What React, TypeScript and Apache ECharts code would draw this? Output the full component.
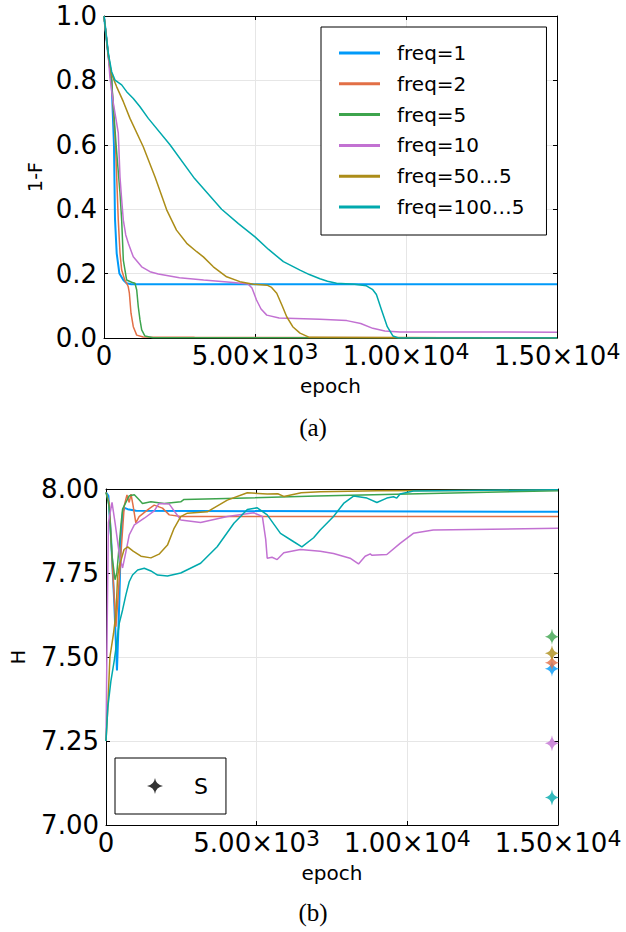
import React, { useEffect, useRef } from 'react';
import * as echarts from 'echarts';

const seriesNames = ['freq=1', 'freq=2', 'freq=5', 'freq=10', 'freq=50…5', 'freq=100…5'];
const seriesColors = ['#009af9', '#e26f46', '#3da44d', '#c271d2', '#ac8d18', '#00a9ad'];

// (a) 1-F vs epoch
const fidFreq1: [number, number][] = [[0, 1.0], [140, 0.88], [250, 0.8], [330, 0.6], [364, 0.37], [420, 0.263], [510, 0.2], [640, 0.18], [750, 0.17], [900, 0.167], [15000, 0.167]];
const fidFreq2: [number, number][] = [[0, 1.0], [140, 0.88], [250, 0.8], [380, 0.6], [440, 0.45], [473, 0.366], [530, 0.264], [585, 0.211], [695, 0.178], [760, 0.168], [800, 0.16], [840, 0.139], [894, 0.077], [970, 0.035], [1083, 0.009], [1300, 0.003], [3000, 0.002], [15000, 0.001]];
const fidFreq5: [number, number][] = [[0, 1.0], [140, 0.88], [250, 0.8], [400, 0.6], [530, 0.45], [585, 0.366], [640, 0.242], [750, 0.18], [915, 0.173], [1025, 0.17], [1083, 0.149], [1135, 0.097], [1192, 0.056], [1248, 0.025], [1357, 0.006], [1620, 0.001], [15000, 0.0005]];
const fidFreq10: [number, number][] = [[0, 1.0], [140, 0.88], [195, 0.81], [308, 0.73], [473, 0.636], [530, 0.5], [585, 0.43], [640, 0.366], [720, 0.32], [805, 0.294], [970, 0.252], [1248, 0.221], [1523, 0.206], [1798, 0.199], [2500, 0.187], [3300, 0.18], [4280, 0.172], [4770, 0.168], [4900, 0.155], [5050, 0.118], [5200, 0.09], [5390, 0.071], [5800, 0.062], [7150, 0.058], [8040, 0.054], [8500, 0.045], [8900, 0.03], [9300, 0.022], [9800, 0.019], [15000, 0.018]];
const fidFreq50: [number, number][] = [[0, 1.0], [140, 0.88], [250, 0.82], [420, 0.78], [640, 0.734], [860, 0.682], [1300, 0.594], [1690, 0.5], [2075, 0.398], [2400, 0.335], [2740, 0.294], [3070, 0.268], [3290, 0.252], [3620, 0.221], [4060, 0.19], [4500, 0.175], [4950, 0.167], [5400, 0.164], [5550, 0.157], [5720, 0.139], [5900, 0.1], [6050, 0.066], [6250, 0.035], [6490, 0.015], [6800, 0.002], [15000, 0.0]];
const fidFreq100: [number, number][] = [[0, 1.0], [143, 0.884], [254, 0.827], [364, 0.801], [585, 0.786], [750, 0.765], [970, 0.744], [1192, 0.718], [1467, 0.682], [2185, 0.6], [3000, 0.495], [3895, 0.4], [4450, 0.355], [5000, 0.314], [5450, 0.275], [5940, 0.237], [6490, 0.211], [6800, 0.197], [7150, 0.184], [7400, 0.176], [7700, 0.17], [8300, 0.167], [8690, 0.162], [8900, 0.15], [9020, 0.135], [9190, 0.087], [9380, 0.035], [9570, 0.006], [9750, 0.0], [15000, 0.0]];

// (b) H vs epoch
const entFreq1: [number, number][] = [[0, 7.99], [80, 7.98], [165, 7.86], [275, 7.66], [364, 7.46], [440, 7.66], [496, 7.863], [560, 7.932], [610, 7.944], [720, 7.94], [1000, 7.935], [15000, 7.932]];
const entFreq2: [number, number][] = [[0, 7.99], [110, 7.957], [220, 7.759], [330, 7.59], [386, 7.66], [496, 7.808], [606, 7.95], [695, 7.982], [770, 7.96], [830, 7.985], [900, 7.95], [990, 7.899], [1100, 7.918], [1380, 7.938], [1600, 7.952], [1875, 7.943], [2100, 7.923], [2480, 7.918], [15000, 7.918]];
const entFreq5: [number, number][] = [[0, 7.99], [100, 7.95], [200, 7.8], [300, 7.73], [360, 7.75], [496, 7.893], [550, 7.94], [770, 7.98], [940, 7.983], [1100, 7.968], [1210, 7.957], [1490, 7.962], [1930, 7.957], [2480, 7.962], [2590, 7.969], [4000, 7.972], [7000, 7.979], [10000, 7.985], [15000, 7.995]];
const entFreq10: [number, number][] = [[0, 7.25], [40, 7.6], [80, 7.9], [200, 7.96], [300, 7.9], [450, 7.8], [550, 7.765], [660, 7.813], [770, 7.863], [940, 7.893], [1270, 7.913], [1600, 7.935], [1760, 7.957], [2100, 7.955], [2300, 7.93], [2480, 7.908], [3140, 7.9], [4030, 7.918], [4910, 7.929], [5190, 7.918], [5300, 7.85], [5350, 7.794], [5510, 7.797], [5680, 7.79], [5900, 7.81], [6450, 7.82], [7110, 7.815], [7550, 7.808], [8100, 7.794], [8380, 7.777], [8600, 7.8], [8770, 7.807], [8820, 7.803], [9320, 7.805], [9760, 7.838], [10200, 7.868], [10860, 7.878], [15000, 7.883]];
const entFreq50: [number, number][] = [[0, 7.25], [60, 7.35], [130, 7.5], [250, 7.57], [330, 7.63], [386, 7.74], [440, 7.77], [600, 7.82], [720, 7.828], [900, 7.815], [1160, 7.8], [1490, 7.795], [1760, 7.806], [2040, 7.833], [2260, 7.883], [2480, 7.918], [2700, 7.928], [3360, 7.932], [4025, 7.967], [4690, 7.989], [5350, 7.985], [5700, 7.986], [5900, 7.978], [6480, 7.989], [7110, 7.992], [9000, 7.995], [15000, 7.997]];
const entFreq100: [number, number][] = [[0, 7.25], [60, 7.35], [165, 7.43], [275, 7.49], [440, 7.6], [550, 7.64], [660, 7.685], [770, 7.724], [880, 7.744], [1050, 7.759], [1270, 7.764], [1490, 7.756], [1710, 7.744], [2040, 7.741], [2480, 7.75], [3140, 7.779], [3690, 7.828], [4245, 7.898], [4690, 7.939], [5020, 7.944], [5350, 7.923], [5790, 7.868], [6230, 7.843], [6500, 7.828], [6890, 7.855], [7110, 7.878], [7550, 7.918], [7885, 7.957], [8215, 7.979], [8660, 7.973], [8990, 7.96], [9320, 7.973], [9540, 7.977], [9650, 7.973], [9760, 7.985], [10200, 7.994], [15000, 7.998]];

// S markers (one per run, same colour order)
const sEpoch = 14800;
const sValues = [7.465, 7.483, 7.56, 7.243, 7.511, 7.082];

const xTickMain = ['0', '5.00×10', '1.00×10', '1.50×10'];
const xTickExp = ['', '3', '4', '4'];
const yTicksA = ['0.0', '0.2', '0.4', '0.6', '0.8', '1.0'];
const yTicksB = ['7.00', '7.25', '7.50', '7.75', '8.00'];

const fidData = [fidFreq1, fidFreq2, fidFreq5, fidFreq10, fidFreq50, fidFreq100];
const entData = [entFreq1, entFreq2, entFreq5, entFreq10, entFreq50, entFreq100];

const starPath = 'path://M0,-10 Q1.3,-1.3 10,0 Q1.3,1.3 0,10 Q-1.3,1.3 -10,0 Q-1.3,-1.3 0,-10 Z';
const FONT = 'DejaVu Sans';

function xAxes(gridIndex: number, name: string) {
  const base = {
    type: 'value', gridIndex, min: 0, max: 15000, interval: 5000,
    axisLine: { show: true, onZero: false, lineStyle: { color: '#000', width: 1 } },
    axisTick: { show: true, inside: true, length: 4, lineStyle: { color: '#000', width: 1 } },
  };
  return [
    {
      ...base, position: 'bottom',
      splitLine: { show: true, lineStyle: { color: '#e6e6e6', width: 1 } },
      name, nameLocation: 'middle', nameGap: 38,
      nameTextStyle: { fontFamily: FONT, fontSize: 20, color: '#000' },
      axisLabel: {
        show: true, margin: 2, color: '#000',
        formatter: (v: number) => {
          const i = Math.round(v / 5000);
          return xTickExp[i] ? `{m|${xTickMain[i]}}{s|${xTickExp[i]}}` : `{m|${xTickMain[i]}}`;
        },
        rich: {
          m: { fontFamily: FONT, fontSize: 26, lineHeight: 32, color: '#000' },
          s: { fontFamily: FONT, fontSize: 22, lineHeight: 21, verticalAlign: 'top', color: '#000' },
        },
      },
    },
    { ...base, position: 'top', splitLine: { show: false }, axisLabel: { show: false } },
  ];
}

function yAxes(gridIndex: number, min: number, max: number, interval: number, labels: string[], name: string, nameGap: number) {
  const base = {
    type: 'value', gridIndex, min, max, interval,
    axisLine: { show: true, onZero: false, lineStyle: { color: '#000', width: 1 } },
    axisTick: { show: true, inside: true, length: 4, lineStyle: { color: '#000', width: 1 } },
  };
  return [
    {
      ...base, position: 'left',
      splitLine: { show: true, lineStyle: { color: '#e6e6e6', width: 1 } },
      name, nameLocation: 'middle', nameGap, nameRotate: 90,
      nameTextStyle: { fontFamily: FONT, fontSize: 19, color: '#000' },
      axisLabel: {
        show: true, margin: 7, color: '#000', fontFamily: FONT, fontSize: 26,
        formatter: (v: number) => labels[Math.round((v - min) / interval)],
      },
    },
    { ...base, position: 'right', splitLine: { show: false }, axisLabel: { show: false } },
  ];
}

export default function App() {
  const ref = useRef<HTMLDivElement>(null);
  useEffect(() => {
    const chart = echarts.init(ref.current!, null, { renderer: 'svg' });
    const lineSeries: any[] = [];
    fidData.forEach((d, i) => {
      lineSeries.push({
        type: 'line', name: seriesNames[i], xAxisIndex: 0, yAxisIndex: 0, data: d,
        showSymbol: false, symbol: 'none', color: seriesColors[i],
        lineStyle: { width: i === 0 ? 2 : 1.5, color: seriesColors[i] },
      });
    });
    entData.forEach((d, i) => {
      lineSeries.push({
        type: 'line', name: seriesNames[i], xAxisIndex: 2, yAxisIndex: 2, data: d,
        showSymbol: false, symbol: 'none', color: seriesColors[i],
        lineStyle: { width: i === 0 ? 2 : 1.5, color: seriesColors[i] },
      });
    });
    lineSeries.push({
      type: 'scatter', name: 'S', xAxisIndex: 2, yAxisIndex: 2, z: 5,
      symbol: starPath, symbolSize: [14, 16], itemStyle: { color: '#000' }, color: '#000',
      data: sValues.map((v, i) => ({ value: [sEpoch, v], itemStyle: { color: seriesColors[i] } })),
    });

    const option: any = {
      animation: false,
      backgroundColor: '#fff',
      grid: [
        { left: 104, top: 16, width: 453, height: 322, containLabel: false },
        { left: 105, top: 489, width: 453, height: 336, containLabel: false },
      ],
      xAxis: [...xAxes(0, 'epoch'), ...xAxes(1, 'epoch')],
      yAxis: [
        ...yAxes(0, 0, 1, 0.2, yTicksA, '1-F', 56),
        ...yAxes(1, 7, 8, 0.25, yTicksB, 'H', 79),
      ],
      legend: [
        {
          left: 321, top: 27, orient: 'vertical',
          padding: [15, 22, 17, 18], borderColor: '#000', borderWidth: 1, backgroundColor: '#fff',
          itemWidth: 41, itemHeight: 3, itemGap: 8.8, icon: 'rect',
          textStyle: { fontFamily: FONT, fontSize: 20, color: '#000', lineHeight: 22, padding: [0, 0, 0, 12] },
          data: seriesNames,
          selectedMode: false,
        },
        {
          left: 115, top: 758, orient: 'vertical',
          padding: [17, 18, 17, 32], borderColor: '#000', borderWidth: 1, backgroundColor: '#fff',
          itemWidth: 16, itemHeight: 17, icon: starPath,
          textStyle: { fontFamily: FONT, fontSize: 22, color: '#000', lineHeight: 22, padding: [0, 0, 0, 26] },
          data: ['S'],
          selectedMode: false,
        },
      ],
      graphic: [
        { type: 'text', left: 'center', top: 415, style: { text: '(a)', fontFamily: 'Liberation Serif', fontSize: 25, fill: '#000' } },
        { type: 'text', left: 'center', top: 900, style: { text: '(b)', fontFamily: 'Liberation Serif', fontSize: 25, fill: '#000' } },
      ],
      series: lineSeries,
    };
    chart.setOption(option);
    return () => chart.dispose();
  }, []);
  return <div ref={ref} style={{ position: 'absolute', left: 0, top: 0, width: 626, height: 932, background: '#fff' }} />;
}
